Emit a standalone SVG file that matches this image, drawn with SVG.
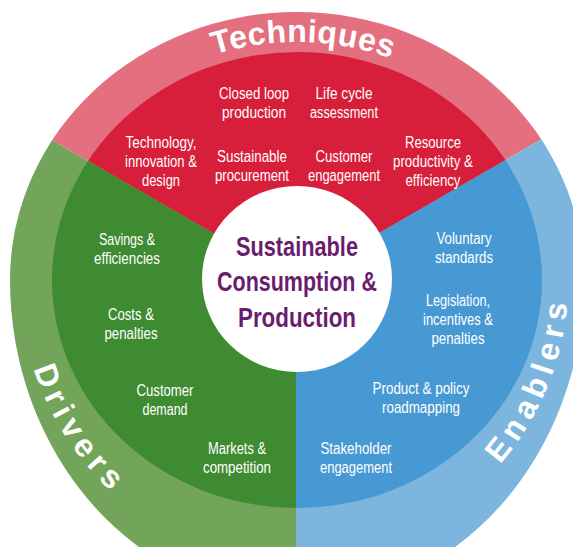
<svg xmlns="http://www.w3.org/2000/svg" width="573" height="547" viewBox="0 0 573 547">
<style>
.lbl{font-family:'Liberation Sans Narrow','Liberation Sans',Arial,sans-serif;font-size:16px;fill:#fff;text-anchor:middle}
.band{font-family:'Liberation Sans',Arial,sans-serif;font-weight:bold;font-size:32px;fill:#fff}
.ctr{font-family:'Liberation Sans Narrow','Liberation Sans',Arial,sans-serif;font-weight:bold;font-size:27px;fill:#6a1d6c;text-anchor:middle}
.rL{fill:#e36f7f}.rD{fill:#d71e3a}
.gL{fill:#72a55a}.gD{fill:#3e8b31}
.bL{fill:#7cb5de}.bD{fill:#4799d3}
</style>
<defs>
<clipPath id="co"><path d="M10,280 A287,268 0 0 1 584,280 A287,320 0 0 1 10,280 Z"/></clipPath>
<clipPath id="ci"><ellipse cx="297" cy="280" rx="245" ry="228"/></clipPath>
<path id="secR" d="M296,281 L-310,-69 L-310,-120 L902,-120 L902,-69 Z"/>
<path id="secG" d="M296,281 L-310,-69 L-310,700 L296,700 Z"/>
<path id="secB" d="M296,281 L296,700 L902,700 L902,-69 Z"/>
<path id="pT" d="M55.5,198.6 A257,238 0 0 1 538.5,198.6"/>
<path id="pD" d="M36.7,182.5 A277,285 0 0 0 287.3,564.8"/>
<path id="pE" d="M353.5,551.8 A272,279 0 0 0 532.6,140.5"/>
</defs>

<g id="ring" clip-path="url(#co)">
<use href="#secR" class="rL"/>
<use href="#secG" class="gL"/>
<use href="#secB" class="bL"/>
</g>
<g id="sectors" clip-path="url(#ci)">
<use href="#secR" class="rD"/>
<use href="#secG" class="gD"/>
<use href="#secB" class="bD"/>
</g>

<g id="band-labels">
<text class="band" letter-spacing="0.5"><textPath href="#pT" startOffset="51%" text-anchor="middle">Techniques</textPath></text>
<text class="band" letter-spacing="6"><textPath href="#pD" startOffset="50%" text-anchor="middle">Drivers</textPath></text>
<text class="band" letter-spacing="6"><textPath href="#pE" startOffset="51%" text-anchor="middle">Enablers</textPath></text>
</g>

<g id="techniques">
<g id="t-closed"><text class="lbl" x="254" y="99" textLength="70" lengthAdjust="spacingAndGlyphs">Closed loop</text><text class="lbl" x="254" y="118" textLength="64" lengthAdjust="spacingAndGlyphs">production</text></g>
<g id="t-lca"><text class="lbl" x="344" y="99" textLength="57" lengthAdjust="spacingAndGlyphs">Life cycle</text><text class="lbl" x="344" y="118" textLength="68" lengthAdjust="spacingAndGlyphs">assessment</text></g>
<g id="t-tech"><text class="lbl" x="161" y="148" textLength="71" lengthAdjust="spacingAndGlyphs">Technology,</text><text class="lbl" x="161" y="167" textLength="72" lengthAdjust="spacingAndGlyphs">innovation &amp;</text><text class="lbl" x="161" y="186" textLength="38" lengthAdjust="spacingAndGlyphs">design</text></g>
<g id="t-proc"><text class="lbl" x="252" y="162" textLength="70" lengthAdjust="spacingAndGlyphs">Sustainable</text><text class="lbl" x="252" y="181" textLength="74" lengthAdjust="spacingAndGlyphs">procurement</text></g>
<g id="t-cust"><text class="lbl" x="344" y="162" textLength="57" lengthAdjust="spacingAndGlyphs">Customer</text><text class="lbl" x="344" y="181" textLength="72" lengthAdjust="spacingAndGlyphs">engagement</text></g>
<g id="t-res"><text class="lbl" x="433" y="148" textLength="56" lengthAdjust="spacingAndGlyphs">Resource</text><text class="lbl" x="433" y="167" textLength="80" lengthAdjust="spacingAndGlyphs">productivity &amp;</text><text class="lbl" x="433" y="186" textLength="55" lengthAdjust="spacingAndGlyphs">efficiency</text></g>
</g>

<g id="drivers">
<g id="d-sav"><text class="lbl" x="127" y="245" textLength="56" lengthAdjust="spacingAndGlyphs">Savings &amp;</text><text class="lbl" x="127" y="264" textLength="66" lengthAdjust="spacingAndGlyphs">efficiencies</text></g>
<g id="d-cost"><text class="lbl" x="131" y="320" textLength="46" lengthAdjust="spacingAndGlyphs">Costs &amp;</text><text class="lbl" x="131" y="339" textLength="53" lengthAdjust="spacingAndGlyphs">penalties</text></g>
<g id="d-dem"><text class="lbl" x="165" y="396" textLength="57" lengthAdjust="spacingAndGlyphs">Customer</text><text class="lbl" x="165" y="415" textLength="45" lengthAdjust="spacingAndGlyphs">demand</text></g>
<g id="d-mkt"><text class="lbl" x="237" y="454" textLength="58" lengthAdjust="spacingAndGlyphs">Markets &amp;</text><text class="lbl" x="237" y="473" textLength="68" lengthAdjust="spacingAndGlyphs">competition</text></g>
</g>

<g id="enablers">
<g id="e-vol"><text class="lbl" x="464" y="244" textLength="55" lengthAdjust="spacingAndGlyphs">Voluntary</text><text class="lbl" x="464" y="263" textLength="58" lengthAdjust="spacingAndGlyphs">standards</text></g>
<g id="e-leg"><text class="lbl" x="458" y="306" textLength="64" lengthAdjust="spacingAndGlyphs">Legislation,</text><text class="lbl" x="458" y="325" textLength="70" lengthAdjust="spacingAndGlyphs">incentives &amp;</text><text class="lbl" x="458" y="344" textLength="53" lengthAdjust="spacingAndGlyphs">penalties</text></g>
<g id="e-road"><text class="lbl" x="421" y="394" textLength="97" lengthAdjust="spacingAndGlyphs">Product &amp; policy</text><text class="lbl" x="421" y="413" textLength="78" lengthAdjust="spacingAndGlyphs">roadmapping</text></g>
<g id="e-stake"><text class="lbl" x="356" y="454" textLength="71" lengthAdjust="spacingAndGlyphs">Stakeholder</text><text class="lbl" x="356" y="473" textLength="72" lengthAdjust="spacingAndGlyphs">engagement</text></g>
</g>

<g id="center">
<ellipse cx="297" cy="279" rx="95" ry="93" fill="#fff"/>
<text class="ctr" x="297" y="256" textLength="122" lengthAdjust="spacingAndGlyphs">Sustainable</text>
<text class="ctr" x="297" y="291" textLength="160" lengthAdjust="spacingAndGlyphs">Consumption &amp;</text>
<text class="ctr" x="297" y="327" textLength="118" lengthAdjust="spacingAndGlyphs">Production</text>
</g>

<g id="connectors"/>
</svg>
